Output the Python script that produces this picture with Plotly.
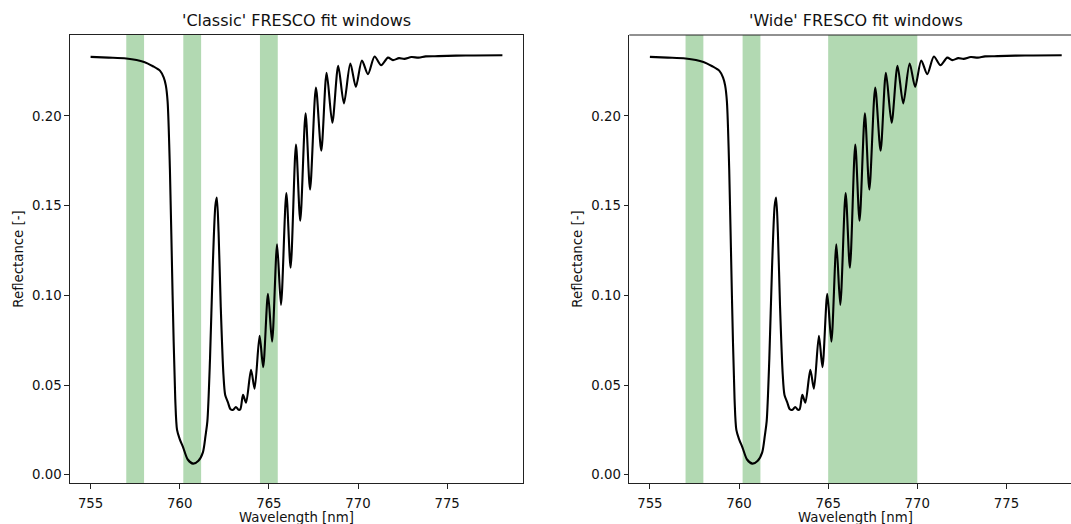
import plotly.graph_objects as go

# Reflectance spectrum (O2 A-band)
wavelength = [755.0, 756.0, 757.0, 758.0, 758.5, 758.9, 759.1, 759.22, 759.32, 759.45,
              759.6, 759.75, 759.85, 760.0, 760.2, 760.45, 760.75, 761.05, 761.3, 761.45,
              761.55, 761.7, 761.85, 762.0, 762.08, 762.18, 762.3, 762.45, 762.55, 762.7,
              762.85, 763.0, 763.15, 763.3, 763.4, 763.55, 763.72, 764.0, 764.2, 764.48,
              764.68, 764.95, 765.18, 765.46, 765.68, 765.98, 766.22, 766.52, 766.76, 767.06,
              767.31, 767.64, 767.94, 768.24, 768.56, 768.89, 769.21, 769.57, 769.88, 770.22,
              770.56, 770.93, 771.30, 771.68, 771.96, 772.3, 772.6, 773.0, 773.4, 773.8,
              774.5, 775.5, 776.5, 778.1]
reflectance = [0.2329, 0.2325, 0.2320, 0.2301, 0.2277, 0.2251, 0.2215, 0.2170, 0.2080, 0.1700,
               0.1000, 0.0420, 0.0250, 0.0199, 0.0150, 0.0085, 0.0062, 0.0078, 0.0125, 0.0220,
               0.0297, 0.0650, 0.1150, 0.1500, 0.1545, 0.1350, 0.0940, 0.0560, 0.0445, 0.0405,
               0.0365, 0.0362, 0.0378, 0.0362, 0.0365, 0.0445, 0.0402, 0.0585, 0.0480, 0.0774,
               0.0600, 0.1008, 0.0742, 0.1284, 0.0947, 0.1570, 0.1154, 0.1840, 0.1416, 0.2014,
               0.1590, 0.2158, 0.1806, 0.2240, 0.1962, 0.2280, 0.2070, 0.2292, 0.2162, 0.2309,
               0.2233, 0.2331, 0.2283, 0.2325, 0.2311, 0.2322, 0.2318, 0.2328, 0.2325, 0.2332,
               0.2333, 0.2336, 0.2337, 0.2338]

titles = ["'Classic' FRESCO fit windows", "'Wide' FRESCO fit windows"]
x_title = "Wavelength [nm]"
y_title = "Reflectance [-]"
classic_windows = [(757.0, 758.0), (760.2, 761.2), (764.5, 765.5)]
wide_windows = [(757.0, 758.0), (760.2, 761.2), (765.0, 770.0)]
x_ticks = [755, 760, 765, 770, 775]
y_ticks = [0.0, 0.05, 0.10, 0.15, 0.20]

W, H = 1071, 524
ML, MR, MT, MB = 70, 0, 35, 41
plot_w = W - ML - MR
plot_h = H - MT - MB
px_per_nm = 453 / 25.41
x_lo = 753.845
dom1 = [0, 453 / plot_w]
dom2 = [(629.3 - ML) / plot_w, 1.0]
x_range1 = [x_lo, x_lo + 453 / px_per_nm]
x_range2 = [x_lo, x_lo + (W - 629.3) / px_per_nm]
y_range = [-0.0046, 0.2451]

FONT = "DejaVu Sans"
TXT = "#111111"
fig = go.Figure()

for i, (windows, xa, ya) in enumerate([(classic_windows, "x", "y"), (wide_windows, "x2", "y2")]):
    for (a, b) in windows:
        fig.add_shape(type="rect", xref=xa, yref=f"{ya} domain", x0=a, x1=b, y0=0, y1=1,
                      fillcolor="green", opacity=0.3, line_width=0, layer="below")
    fig.add_trace(go.Scatter(x=wavelength, y=reflectance, mode="lines",
                             line=dict(color="black", width=2.1, shape="spline", smoothing=0.8),
                             xaxis=xa, yaxis=ya, showlegend=False, hoverinfo="skip"))

axis_common = dict(showline=True, linecolor="#222222", linewidth=1, ticks="outside",
                   ticklen=4.7, tickwidth=1, tickcolor="#222222", showgrid=False, zeroline=False,
                   automargin=False, tickfont=dict(family=FONT, size=13.3, color=TXT))
lfont = dict(family=FONT, size=13.3, color=TXT)

fig.update_layout(
    width=W, height=H, template="none",
    margin=dict(l=ML, r=MR, t=MT, b=MB, pad=0),
    paper_bgcolor="white", plot_bgcolor="white",
    xaxis=dict(domain=dom1, range=x_range1, tickvals=x_ticks, mirror=True, anchor="y",
               ticklabelstandoff=3, **axis_common),
    yaxis=dict(domain=[0, 1], range=y_range, tickvals=y_ticks, tickformat=".2f", mirror=True, anchor="x",
               title=dict(text=y_title, font=lfont, standoff=5), **axis_common),
    xaxis2=dict(domain=dom2, range=x_range2, tickvals=x_ticks, anchor="y2",
                ticklabelstandoff=3, **axis_common),
    yaxis2=dict(domain=[0, 1], range=y_range, tickvals=y_ticks, tickformat=".2f", anchor="x2",
                title=dict(text=y_title, font=lfont, standoff=5), **axis_common),
)

# top frame line of the right panel (its right edge lies outside the picture)
fig.add_shape(type="line", xref="x2 domain", yref="y2 domain", x0=0, x1=1, y0=1, y1=1,
              line=dict(color="#222222", width=1), layer="above")

for title, dom in zip(titles, [dom1, dom2]):
    cx = (dom[0] + (dom[0] + 453 / plot_w)) / 2
    fig.add_annotation(text=title, xref="paper", yref="paper", x=cx, y=1 + 14.5 / plot_h,
                       xanchor="center", yanchor="middle", showarrow=False,
                       font=dict(family=FONT, size=16, color=TXT))
    fig.add_annotation(text=x_title, xref="paper", yref="paper", x=cx, y=-(517 - 483) / plot_h,
                       xanchor="center", yanchor="middle", showarrow=False, font=lfont)

fig.write_html("out.html")
